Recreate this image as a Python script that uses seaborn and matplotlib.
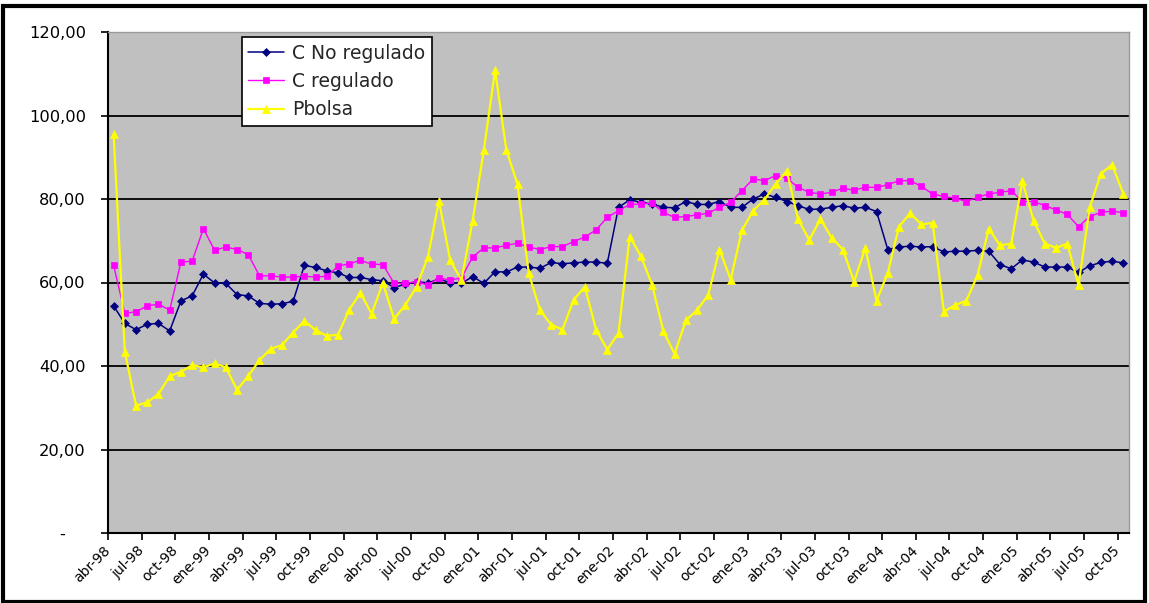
import matplotlib
matplotlib.use("Agg")
import matplotlib.pyplot as plt
import numpy as np
import pandas as pd
import seaborn as sns
from matplotlib.patches import Rectangle

# Monthly series, abr-98 .. oct-05 (91 months)
c_no_regulado = [
    54.4, 50.2, 48.7, 50.0, 50.2, 48.4, 55.6, 56.8, 62.0, 59.9,
    59.8, 57.1, 56.8, 55.0, 54.8, 54.9, 55.5, 64.1, 63.6, 62.8,
    62.3, 61.2, 61.2, 60.7, 60.4, 58.8, 59.6, 60.2, 59.9, 60.8,
    60.0, 59.8, 61.4, 59.8, 62.6, 62.5, 63.7, 63.7, 63.4, 64.8,
    64.5, 64.7, 64.9, 64.9, 64.6, 78.0, 79.8, 79.2, 78.8, 78.0,
    77.9, 79.4, 78.7, 78.7, 79.4, 78.0, 78.0, 80.0, 81.2, 80.4,
    79.4, 78.4, 77.5, 77.6, 78.0, 78.4, 77.8, 78.0, 77.0, 67.9,
    68.5, 68.7, 68.5, 68.6, 67.3, 67.5, 67.5, 67.7, 67.5, 64.3,
    63.3, 65.4, 64.9, 63.7, 63.7, 63.7, 62.4, 64.0, 64.8, 65.1,
    64.7,
]
c_regulado = [
    64.1, 52.6, 53.0, 54.4, 54.8, 53.4, 64.9, 65.1, 72.9, 67.7,
    68.5, 67.9, 66.7, 61.6, 61.6, 61.3, 61.3, 61.5, 61.3, 61.5,
    63.9, 64.5, 65.3, 64.4, 64.3, 59.8, 59.8, 60.2, 59.4, 61.1,
    60.6, 61.1, 66.1, 68.3, 68.3, 68.9, 69.4, 68.5, 67.9, 68.6,
    68.6, 69.8, 70.9, 72.6, 75.6, 77.2, 78.7, 78.8, 79.0, 76.8,
    75.6, 75.8, 76.2, 76.6, 78.0, 79.2, 82.0, 84.8, 84.4, 85.6,
    85.0, 82.8, 81.6, 81.2, 81.6, 82.6, 82.1, 82.8, 82.8, 83.4,
    84.4, 84.4, 83.0, 81.2, 80.6, 80.2, 79.4, 80.4, 81.2, 81.6,
    82.0, 79.4, 79.4, 78.4, 77.4, 76.3, 73.4, 75.8, 76.8, 77.1,
    76.7,
]
pbolsa = [
    95.5, 43.4, 30.5, 31.3, 33.3, 37.6, 38.6, 40.2, 39.7, 40.6,
    39.7, 34.3, 37.6, 41.4, 44.1, 45.0, 48.0, 50.8, 48.6, 47.2,
    47.5, 53.5, 57.5, 52.5, 59.9, 51.3, 54.6, 59.0, 66.0, 79.5,
    65.3, 60.6, 74.8, 91.8, 110.8, 91.8, 83.5, 62.2, 53.4, 49.9,
    48.7, 55.8, 59.0, 48.7, 43.9, 47.9, 71.0, 66.3, 59.4, 48.3,
    42.9, 50.9, 53.4, 57.0, 67.9, 60.7, 72.5, 77.2, 79.8, 83.6,
    86.7, 75.2, 70.2, 75.2, 70.7, 67.9, 60.2, 68.3, 55.6, 62.3,
    73.4, 76.6, 73.9, 74.3, 53.0, 54.6, 55.6, 61.7, 72.9, 68.9,
    69.3, 84.2, 74.8, 69.3, 68.3, 69.3, 59.4, 78.0, 86.1, 88.2,
    81.2,
]

tick_labels = [
    "abr-98", "jul-98", "oct-98", "ene-99", "abr-99", "jul-99", "oct-99",
    "ene-00", "abr-00", "jul-00", "oct-00", "ene-01", "abr-01", "jul-01",
    "oct-01", "ene-02", "abr-02", "jul-02", "oct-02", "ene-03", "abr-03",
    "jul-03", "oct-03", "ene-04", "abr-04", "jul-04", "oct-04", "ene-05",
    "abr-05", "jul-05", "oct-05",
]
y_ticks = [0, 20, 40, 60, 80, 100, 120]
y_tick_labels = ["-    ", "20,00", "40,00", "60,00", "80,00", "100,00", "120,00"]

n = len(c_no_regulado)
df = pd.DataFrame({
    "mes": np.arange(n),
    "C No regulado": c_no_regulado,
    "C regulado": c_regulado,
    "Pbolsa": pbolsa,
})

sns.set_style("ticks")
plt.rcParams["font.family"] = ["DejaVu Sans"]

W, H = 1149, 603
fig = plt.figure(figsize=(W / 100, H / 100), dpi=100)
fig.patch.set_facecolor("white")
ax = fig.add_axes([108 / W, 1 - 533 / H, 1021 / W, 501 / H])
ax.set_facecolor("#c0c0c0")

series_style = [
    ("C No regulado", "#000080", "D", 4.5, 1.1),
    ("C regulado", "#ff00ff", "s", 5.0, 1.0),
    ("Pbolsa", "#ffff00", "^", 5.5, 1.6),
]
for name, col, mk, ms, lw in series_style:
    sns.lineplot(data=df, x="mes", y=name, ax=ax, color=col, marker=mk,
                 markersize=ms, markeredgecolor=col, markeredgewidth=0.5,
                 linewidth=lw, label=name)

ax.set_xlim(-0.5, n - 0.5)
ax.set_ylim(0, 120)
ax.set_xlabel("")
ax.set_ylabel("")

ax.set_yticks(y_ticks)
ax.set_yticklabels(y_tick_labels)
ax.set_xticks(np.arange(len(tick_labels)) * 3 - 0.5)
ax.set_xticklabels(tick_labels, rotation=45, ha="right", va="center",
                   rotation_mode="anchor")

ax.set_axisbelow(True)
ax.yaxis.grid(True, color="black", linewidth=1.3)
ax.xaxis.grid(False)

ax.tick_params(axis="y", length=5, width=1.2, pad=11, labelsize=11.7,
               colors="black")
ax.tick_params(axis="x", length=5, width=1.2, pad=6, labelsize=10,
               colors="black")
for side in ("left", "bottom"):
    ax.spines[side].set_color("black")
    ax.spines[side].set_linewidth(1.5)
for side in ("top", "right"):
    ax.spines[side].set_visible(True)
    ax.spines[side].set_color("#9a9a9a")
    ax.spines[side].set_linewidth(1.0)

leg = ax.legend(loc="upper left", bbox_to_anchor=(0.131, 0.99),
                borderaxespad=0, frameon=True, fancybox=False,
                edgecolor="black", framealpha=1, facecolor="white",
                fontsize=13.5, handlelength=1.9, handletextpad=0.45,
                labelspacing=0.5, borderpad=0.35)
leg.get_frame().set_linewidth(1.2)

# outer frame around the whole chart
fig.patches.append(Rectangle((3 / W, 1.5 / H), 1142 / W, 595.5 / H,
                             transform=fig.transFigure, fill=False,
                             edgecolor="black", linewidth=3.0))

fig.savefig("out.png", dpi=100, facecolor="white")
